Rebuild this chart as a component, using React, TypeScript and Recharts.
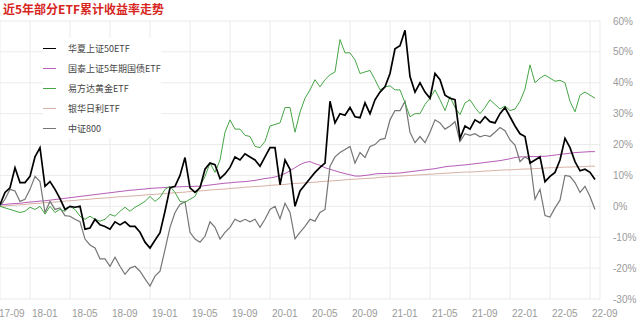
import React from 'react';
import { LineChart, Line, XAxis, YAxis, CartesianGrid } from 'recharts';

// half-month samples, first point = 2017-10
const SH50 = [
  0.5, 4.5, 6, 12.5, 7.7, 7.7, 9.7, 16, 19, 6.5, 8, 5.5, 2.5, -1, 0, -0.3, 0, -7.4, -7, -4.2,
  -6, -6.5, -7.4, -5, -6, -5, -6.5, -6.5, -8.4, -11.6, -13.5, -11, -8.5, -1.6, 6, 6.5, 10, 15.8, 6, 4.5,
  6, 12, 14, 13.5, 9, 10.5, 12.6, 16, 15, 17, 16, 15, 13, 16, 19, 19, 7, 15, 12, 0,
  5, 7, 9, 11, 12.6, 14, 34, 27, 30, 29.5, 32, 29, 28.7, 33.5, 30, 34.5, 37, 38.7, 43, 51,
  52, 57, 42, 37, 40, 37, 35, 43, 41, 36, 35, 34.5, 22, 26, 25, 28, 27, 29, 27.4, 27,
  30, 32, 29, 26, 23.5, 22.6, 14, 15, 16, 8, 9.7, 11, 15, 22, 19, 14.5, 11.5, 12, 11, 8.7,
];
const BOND5Y = [
  0.5, 0.6, 0.8, 0.9, 1, 1.2, 1.4, 1.5, 1.7, 1.8, 2, 2.2, 2.4, 2.6, 2.8, 3, 3.2, 3.4, 3.6, 3.8,
  4, 4.2, 4.4, 4.6, 4.8, 5, 5.2, 5.3, 5.5, 5.6, 5.8, 5.9, 6, 6.1, 6.2, 6.3, 6.3, 6.4, 6.4, 6.5,
  6.5, 6.7, 6.9, 7.1, 7.3, 7.5, 7.6, 7.8, 7.9, 8, 8.2, 8.4, 8.7, 9, 9.2, 9.5, 10, 10.6, 11.5, 12.5,
  13.5, 14.2, 14.5, 13.8, 13.3, 12.5, 12, 11.5, 11, 10.6, 10.2, 9.8, 9.8, 10, 10.2, 10.5, 10.6, 10.6, 10.7, 10.7,
  10.8, 11, 11.2, 11.4, 11.6, 11.8, 12, 12.2, 12.5, 12.8, 13, 13.1, 13.3, 13.4, 13.6, 13.8, 14, 14.2, 14.4, 14.6,
  14.8, 15.1, 15.4, 15.8, 16, 16, 16.1, 16.1, 16.2, 16.2, 16.4, 16.6, 16.8, 17, 17.2, 17.4, 17.5, 17.6, 17.7, 17.7,
];
const GOLD = [
  0, -0.5, -1, -1.5, -2, -1.6, -0.3, -1, 0, -2.5, 0, -2, -1, -1.6, 0, -1, -3.2, -4.2, -3.2, -4.2,
  -4.8, -4.2, -2.6, -3.2, -1.6, -0.3, -1.6, -0.3, 0.6, 1.6, 3.2, 1.6, 2.9, 5.5, 6.5, 4.5, 1.6, 1.3, 2.3, 3.2,
  6.5, 9.7, 14, 11, 15, 24, 28, 25, 25, 23, 22.6, 19.4, 19, 21, 26, 26.5, 27, 32, 32, 24,
  30.5, 35, 37.7, 41, 38.7, 41, 42.6, 43.5, 54, 49.7, 49.7, 47.4, 43, 43.5, 44, 41, 37.7, 38.7, 39, 37.7,
  37.7, 33.5, 29, 30, 30, 33, 35, 37.7, 34.5, 31, 35.5, 32, 29.7, 33.5, 34.5, 32, 30, 32, 34.5, 33,
  31.5, 32.5, 31, 31.5, 34, 38, 45.8, 40, 41.5, 42.5, 41.5, 40.5, 40.8, 40, 34, 30.6, 36, 37, 36, 35,
];
const MONEY = [
  0, 0.1, 0.3, 0.4, 0.5, 0.6, 0.8, 0.9, 1, 1.2, 1.3, 1.4, 1.5, 1.7, 1.8, 1.9, 2.1, 2.2, 2.3, 2.5,
  2.6, 2.7, 2.8, 3, 3.1, 3.2, 3.3, 3.4, 3.5, 3.7, 3.8, 3.9, 4, 4.1, 4.3, 4.4, 4.5, 4.6, 4.8, 4.9,
  5, 5.1, 5.3, 5.4, 5.5, 5.6, 5.8, 5.9, 6, 6.2, 6.3, 6.4, 6.5, 6.6, 6.8, 6.9, 7, 7.1, 7.3, 7.4,
  7.5, 7.6, 7.7, 7.8, 8, 8.1, 8.2, 8.3, 8.4, 8.6, 8.7, 8.8, 8.9, 9, 9.1, 9.2, 9.4, 9.5, 9.6, 9.7,
  9.8, 9.9, 10, 10.1, 10.2, 10.3, 10.4, 10.5, 10.6, 10.7, 10.8, 10.9, 11, 11.1, 11.1, 11.2, 11.3, 11.4, 11.5, 11.6,
  11.7, 11.8, 11.8, 11.9, 12, 12.1, 12.1, 12.2, 12.3, 12.4, 12.5, 12.5, 12.6, 12.7, 12.7, 12.8, 12.8, 12.9, 13, 13,
];
const CSI800 = [
  0, 2.3, 5.5, 5, 1.6, 2.3, 5.5, 9.7, 8, -2, 1.6, -1, -0.5, -3, -3.2, -4.2, -5, -10.6, -12.5, -13.5,
  -17, -17, -19.4, -16.5, -19.4, -22, -20, -19.4, -21, -23.5, -25.8, -22.6, -21, -14, -6.8, -2, 0.6, 1.5, -8.4, -10.6,
  -11.6, -9.7, -5, -6.8, -10.6, -8.4, -6.8, -4.2, -5, -4.2, -5, -4.2, -6.8, -4.2, -1, 0, -4, 1, -2, -10.5,
  -8.4, -6.5, -4.2, -4.8, -2, -1, 13, 16, 17.4, 18.4, 19.4, 14, 17.4, 15.8, 19.4, 20, 21.6, 22, 28, 31,
  31, 34, 24, 20.6, 22.6, 20.6, 24, 28, 27, 25, 26, 27.4, 21, 23.5, 23, 23.5, 22.5, 23, 22.6, 24,
  25.5, 24.5, 21.5, 19.8, 14.5, 16, 15, 2.3, 5.5, -3, -3.5, -0.5, 2, 10, 9.7, 7.7, 4.5, 6.5, 3.2, -1,
];

// month index, 0 = 2017-09
const MONTHS = SH50.map((_, i) => 1 + i * 0.5);
const X_LABELS = ['17-09', '18-01', '18-05', '18-09', '19-01', '19-05', '19-09', '20-01',
  '20-05', '20-09', '21-01', '21-05', '21-09', '22-01', '22-05', '22-09'];
const X_TICKS = X_LABELS.map((_, i) => i * 4);
const Y_TICKS = [-30, -20, -10, 0, 10, 20, 30, 40, 50, 60];

const SERIES = [
  { key: 'money', name: '银华日利ETF', color: '#d8b2a6', width: 1 },
  { key: 'bond', name: '国泰上证5年期国债ETF', color: '#b75cb8', width: 1 },
  { key: 'csi', name: '中证800', color: '#767676', width: 1.2 },
  { key: 'gold', name: '易方达黄金ETF', color: '#46a546', width: 1 },
  { key: 'sh50', name: '华夏上证50ETF', color: '#000000', width: 1.7 },
];
const LEGEND_ORDER = ['sh50', 'bond', 'gold', 'money', 'csi'];

const data = MONTHS.map((t, i) => ({
  t,
  sh50: SH50[i],
  bond: BOND5Y[i],
  gold: GOLD[i],
  money: MONEY[i],
  csi: CSI800[i],
}));

const font = '"Liberation Sans", Arial, sans-serif';

const XTick = (props: any) => {
  const { x, payload } = props;
  const label = X_LABELS[X_TICKS.indexOf(payload.value)];
  return (
    <text x={Math.max(x + 2, -1)} y={317} textAnchor="start" fontSize={10} fill="#9a9a9a" fontFamily={font}>
      {label}
    </text>
  );
};

export default function App() {
  return (
    <div style={{ position: 'relative', width: 640, height: 322, background: '#fff', overflow: 'hidden' }}>
      <style>{'body{margin:0}'}</style>
      <LineChart width={640} height={322} data={data} margin={{ top: 21, right: 0, bottom: 0, left: 0 }}>
        <CartesianGrid stroke="#ebebeb" />
        <XAxis
          dataKey="t"
          type="number"
          domain={[1, 61]}
          allowDataOverflow
          ticks={X_TICKS}
          interval={0}
          tick={<XTick />}
          tickLine={false}
          axisLine={false}
          height={23}
        />
        <YAxis
          orientation="right"
          domain={[-30, 60]}
          ticks={Y_TICKS}
          interval={0}
          width={40}
          tickLine={false}
          axisLine={false}
          tickSize={0}
          tickMargin={13}
          tickFormatter={(v: number) => `${v}%`}
          tick={{ fontSize: 10, fill: '#9a9a9a', fontFamily: font, textAnchor: 'start' }}
        />
        {SERIES.map((s) => (
          <Line
            key={s.key}
            type="linear"
            dataKey={s.key}
            stroke={s.color}
            strokeWidth={s.width}
            dot={false}
            isAnimationActive={false}
          />
        ))}
      </LineChart>
      <div
        style={{
          position: 'absolute', left: 0, top: 0, width: 640, height: 17, background: '#fff',
          fontFamily: '"Noto Sans CJK SC", sans-serif', fontWeight: 700, fontSize: 12,
          color: '#d6261e', lineHeight: '18px', paddingLeft: 3, boxSizing: 'border-box',
        }}
      >
        近5年部分ETF累计收益率走势
      </div>
      <div style={{ position: 'absolute', left: 43, top: 38, background: '#fff' }}>
        {LEGEND_ORDER.map((k) => {
          const s = SERIES.find((x) => x.key === k)!;
          return (
            <div key={k} style={{ display: 'flex', alignItems: 'center', height: 20 }}>
              <span style={{ display: 'inline-block', width: 13, height: 0, borderTop: `1.5px solid ${s.color}`, marginRight: 12 }} />
              <span style={{ fontFamily: '"Noto Sans CJK SC", sans-serif', fontSize: 9, color: '#444' }}>{s.name}</span>
            </div>
          );
        })}
      </div>
    </div>
  );
}
